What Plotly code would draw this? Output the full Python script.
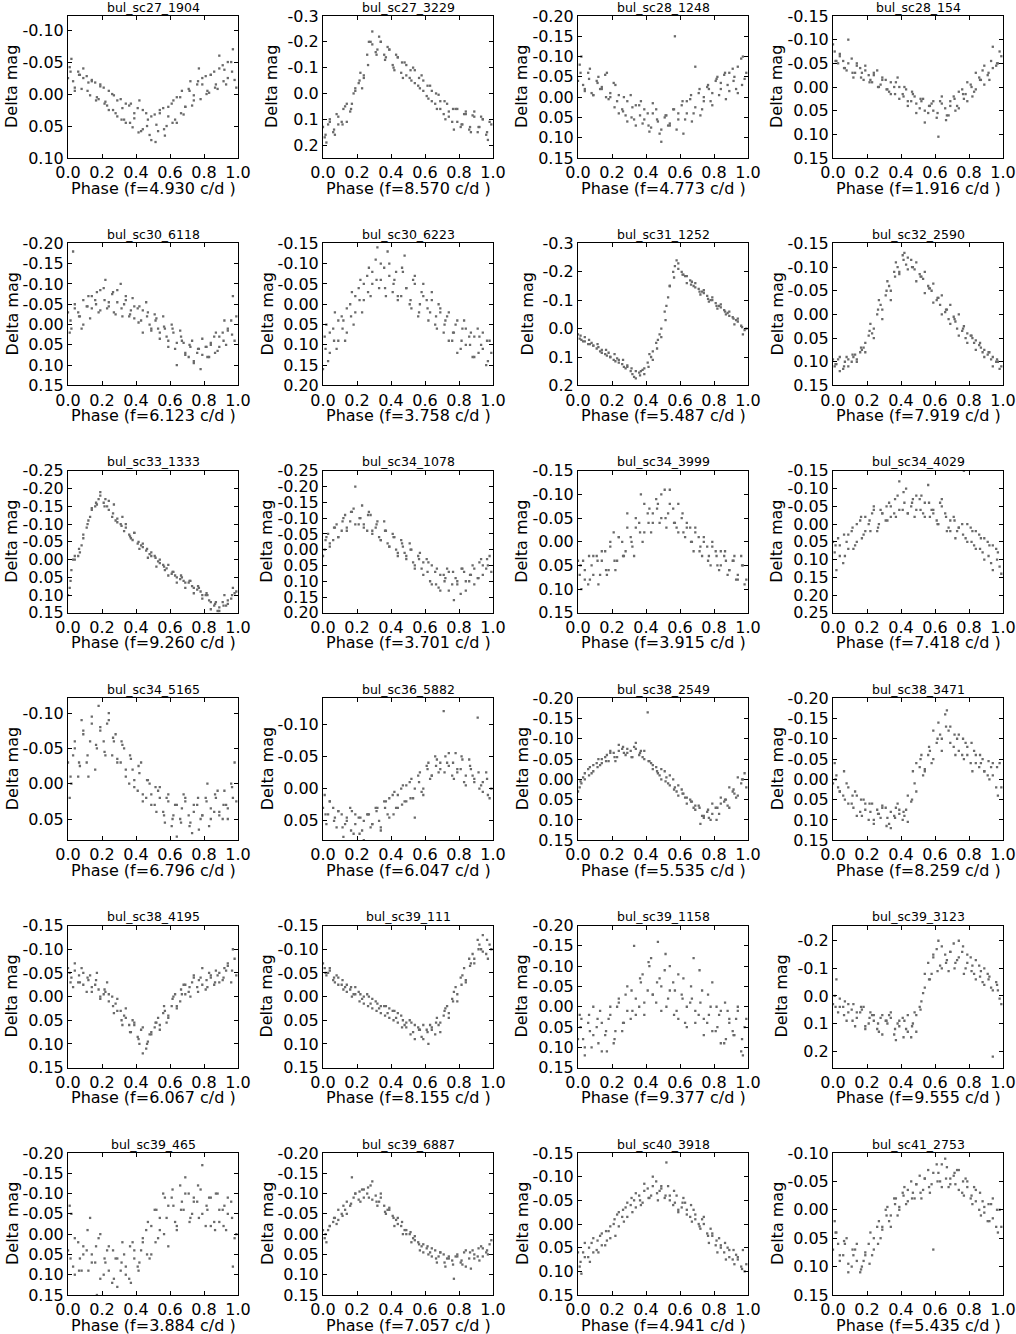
import plotly.graph_objects as go

# phase sampling shared by all panels (three interleaved sets of observations)
PHASE_A = [0.01, 0.03, 0.06, 0.08, 0.11, 0.13, 0.16, 0.18, 0.21, 0.23, 0.26, 0.28, 0.31, 0.33,
           0.36, 0.38, 0.41, 0.43, 0.46, 0.48, 0.51, 0.53, 0.56, 0.58, 0.61, 0.63, 0.66, 0.68,
           0.71, 0.73, 0.76, 0.78, 0.81, 0.83, 0.86, 0.88, 0.91, 0.93, 0.96, 0.98]
PHASE_B = [0.00, 0.02, 0.04, 0.07, 0.09, 0.12, 0.14, 0.17, 0.19, 0.22, 0.24, 0.27, 0.29, 0.32,
           0.34, 0.37, 0.39, 0.42, 0.44, 0.47, 0.49, 0.52, 0.54, 0.57, 0.59, 0.62, 0.64, 0.67,
           0.69, 0.72, 0.74, 0.77, 0.79, 0.82, 0.84, 0.87, 0.89, 0.92, 0.94, 0.97]
PHASE_C = [0.015, 0.04, 0.065, 0.09, 0.115, 0.14, 0.165, 0.19, 0.215, 0.24, 0.265, 0.29, 0.315,
           0.34, 0.365, 0.39, 0.415, 0.44, 0.465, 0.49, 0.515, 0.54, 0.565, 0.59, 0.615, 0.64,
           0.665, 0.69, 0.715, 0.74, 0.765, 0.79, 0.815, 0.84, 0.865, 0.89, 0.915, 0.94, 0.965, 0.99]

# delta mag in millimag
sc27_1904_a = [-42, -20, -35, -8, -28, 2, -18, 8, -10, 18, 0, 30, 8, 40, 18, 52, 22, 58, 30, 64,
               32, 58, 22, 50, 15, 40, 5, 32, -8, 18, -15, 8, -28, -2, -35, -8, -45, -15, -50, -22]
sc27_1904_b = [-25, -55, -5, -30, -40, -18, -22, 5, -12, 12, 25, 2, 35, 22, 45, 15, 38, 10, 55, 40,
               72, 48, 25, 65, 35, 10, 45, -5, 20, -20, 2, -40, -15, -5, -30, -15, -60, -38, -25, -70]
sc27_1904_c = [-35, -10, -30, -25, -5, -20, 10, -15, 15, -5, 25, 10, 40, 15, 45, 30, 60, 25, 50, 35,
               75, 30, 55, 20, 45, 5, 30, 20, -5, 10, -20, -25, 0, -30, -10, -40, -20, -50, -35, -10]
sc27_3229_a = [170, 120, 150, 80, 110, 50, 70, 0, -40, -20, -150, -200, -160, -220, -150, -180, -110,
               -150, -80, -120, -60, -100, -30, -70, 10, -30, 40, 5, 80, 40, 110, 60, 130, 80, 140,
               85, 150, 90, 160, 110]
sc27_3229_b = [130, 190, 100, 160, 120, 60, 110, 40, -20, -80, -70, -200, -240, -170, -200, -140,
               -170, -90, -140, -60, -110, -50, -90, -20, -50, 20, -10, 60, 30, 100, 70, 140, 60,
               120, 80, 150, 70, 130, 100, 180]
sc27_3229_c = [160, 110, 140, 90, 120, 40, 60, -10, -50, -60, -110, -190, -150, -200, -130, -170,
               -100, -140, -120, -70, -90, -40, -60, -10, -30, 30, 0, 60, 30, 90, 60, 110, 120, 70,
               130, 90, 130, 100, 150, 120]
sc28_1248_a = [-80, -30, -60, -10, -40, -20, -55, 5, -35, 10, 30, 45, -5, 55, 20, 65, 40, 75, 30, 90,
               50, 70, 30, 80, 20, 55, 5, 40, -10, 30, -25, 10, -40, -5, -55, -30, -70, -20, -95, -45]
sc28_1248_b = [-40, -100, -15, -70, -5, -50, -20, -60, 0, -30, 40, 0, 60, 25, 70, 10, 55, 85, 15, 60,
               110, 45, 70, -150, 40, 90, 10, 60, -75, 45, 0, -20, 20, -50, -35, 5, -60, -50, -10, -100]
sc28_1248_c = [-60, -20, -45, -5, -35, -25, 0, -10, 25, -5, 35, 10, 50, 20, 45, 30, 70, 40, 55, 80,
               45, 65, 30, 55, 10, 40, -5, 25, -20, 10, -30, -10, -45, -20, -60, -15, -40, -75, -30, -60]
sc28_154_a = [-75, -50, -55, -35, -60, -30, -40, -15, -25, -10, -35, -5, -15, 10, 0, -20, 15, 5, 30,
              20, 45, 25, 55, 35, 65, 30, 45, 60, 20, 40, 5, 15, -5, 10, -20, -35, -25, -55, -45, -75]
sc28_154_b = [-90, -55, -70, -40, -100, -20, -50, -30, -45, -15, -25, 0, -20, 5, 15, -10, 25, 0, 40,
              15, 55, 30, 75, 40, 50, 105, 20, 60, 30, 50, 10, 25, -10, 20, -30, -15, -45, -15, -85, -50]
sc28_154_c = [-55, -65, -40, -50, -30, -45, -20, -35, -10, -30, 0, -15, 5, -10, 15, 0, 20, 30, 10, 35,
              25, 50, 40, 30, 55, 35, 70, 40, 25, 45, 15, 30, 0, 5, -15, -5, -30, -40, -50, -65]
sc30_6118_a = [20, -180, -30, 10, -45, -15, -60, -30, -90, -40, -75, -25, -100, -50, -20, -65, -40,
               -10, -55, 0, -25, 10, -20, 30, 0, 60, 15, 45, 80, 40, 70, 110, 55, 80, 30, 65, 20, 50,
               -10, 40]
sc30_6118_b = [-30, 10, -50, -20, 0, -70, -40, -80, -35, -110, -55, -30, -85, -20, -60, -35, -15, -45,
               20, -30, 10, -15, 35, 10, 55, 20, 100, 40, 75, 55, 95, 60, 35, 80, 50, 20, 55, -10, 15,
               -70]
sc30_6118_c = [-10, -40, -20, -60, -45, -70, -50, -85, -60, -45, -80, -55, -40, -70, -25, -45, -5,
               -35, -20, 15, -10, 20, 5, 40, 10, 45, 30, 70, 50, 90, 60, 75, 55, 45, 70, 30, 40, 10,
               25, -20]
sc30_6223_a = [80, 140, 60, 110, 30, 90, 0, 50, -40, 20, -70, -20, -110, -40, -90, -130, -30, -80,
               -20, -120, 0, -60, 30, -30, -10, 20, 50, 0, 70, 30, 90, 50, 110, 40, 80, 130, 60, 100,
               150, 90]
sc30_6223_b = [160, 50, 120, 20, 90, 40, 70, -30, 20, -60, -10, -90, -50, -140, -60, -20, -100, -60,
               -10, -80, -40, 10, -70, 0, -50, 40, -10, 60, 20, 40, 90, 70, 120, 60, 100, 70, 130, 80,
               110, 140]
sc30_6223_c = [110, 70, 90, 40, 60, 10, 30, -20, -10, -50, -30, -80, -60, -100, -40, -70, -50, -20,
               -90, -40, -10, -50, 20, -20, 10, -30, 30, 10, 50, 20, 70, 40, 90, 60, 100, 80, 120, 70,
               90, 120]
sc31_1252_a = [35, 45, 55, 50, 70, 80, 90, 85, 110, 105, 125, 140, 150, 170, 155, 145, 120, 100, 50,
               20, -60, -110, -200, -240, -200, -185, -170, -150, -140, -130, -115, -100, -90, -80,
               -65, -55, -40, -30, -10, 5]
sc31_1252_b = [20, 40, 30, 55, 60, 65, 85, 95, 100, 115, 120, 135, 130, 160, 175, 150, 140, 90, 80,
               40, 0, -80, -150, -220, -210, -190, -160, -165, -145, -120, -125, -95, -100, -70, -75,
               -50, -45, -15, -25, 20]
sc31_1252_c = [25, 45, 40, 60, 55, 75, 75, 100, 90, 110, 110, 135, 140, 150, 165, 160, 135, 110, 70,
               30, -30, -150, -180, -230, -190, -185, -155, -160, -130, -135, -105, -110, -80, -85,
               -60, -60, -35, -35, -5, 0]
sc32_2590_a = [110, 95, 115, 90, 100, 85, 80, 70, 45, 40, 0, -20, -40, -60, -90, -100, -125, -105,
               -115, -95, -85, -75, -60, -50, -30, -20, -5, 10, 5, 30, 35, 50, 45, 60, 65, 80, 85, 95,
               100, 115]
sc32_2590_b = [95, 105, 120, 100, 110, 90, 95, 75, 60, 20, 30, -30, -10, -70, -50, -110, -85, -130,
               -95, -100, -70, -80, -45, -55, -25, -35, 0, -10, 20, 15, 45, 25, 60, 50, 75, 70, 90, 80,
               110, 100]
sc32_2590_c = [105, 90, 110, 95, 85, 100, 70, 80, 35, 50, -10, 10, -50, -30, -80, -90, -115, -120,
               -100, -110, -80, -90, -55, -65, -35, -40, -10, -20, 10, 0, 30, 40, 45, 55, 60, 75, 80,
               90, 95, 110]
sc33_1333_a = [80, 0, -10, -40, -90, -120, -150, -170, -160, -150, -120, -110, -100, -80, -70, -55,
               -45, -40, -25, -15, -10, 5, 15, 25, 40, 45, 55, 60, 65, 75, 85, 90, 100, 115, 130, 145,
               120, 130, 110, 95]
sc33_1333_b = [100, 30, 0, -20, -60, -110, -145, -155, -190, -170, -140, -155, -105, -120, -90, -60,
               -75, -30, -45, -5, -20, 20, 0, 30, 45, 35, 65, 50, 80, 60, 95, 80, 110, 100, 140, 120,
               145, 100, 125, 80]
sc33_1333_c = [60, -10, -30, -70, -100, -140, -160, -180, -150, -165, -130, -115, -95, -100, -65, -75,
               -50, -35, -30, -10, -5, 10, 20, 15, 35, 50, 45, 65, 60, 80, 75, 100, 95, 120, 125, 135,
               130, 115, 100, 90]
sc34_1078_a = [0, -50, -30, -80, -60, -110, -90, -130, -80, -140, -60, -110, -70, -40, -90, -20, -50,
               0, -30, 10, -20, 40, 20, 60, 30, 100, 70, 120, 80, 60, 110, 90, 140, 70, 100, 50, 90,
               30, 60, 20]
sc34_1078_b = [20, -40, -20, -70, -40, -100, -70, -120, -200, -100, -80, -120, -50, -90, -30, -60,
               -10, -40, 20, -10, 30, 0, 50, 10, 80, 40, 110, 60, 130, 90, 70, 160, 100, 60, 130, 80,
               110, 40, 80, 50]
sc34_1078_c = [-30, -10, -70, -40, -90, -60, -120, -80, -100, -70, -110, -60, -80, -30, -60, -10, -40,
               10, -20, 20, 0, 60, 30, 40, 70, 50, 110, 80, 100, 130, 70, 110, 60, 100, 80, 60, 90,
               50, 30, 70]
sc34_3999_a = [70, 40, 90, 50, 30, 70, 20, 60, -20, 40, 0, 20, -10, 30, -40, 0, -60, -20, -90, -40,
               -110, -60, -70, -30, -50, -10, -30, 20, -10, 30, 10, 50, 20, 60, 30, 70, 40, 80, 30, 90]
sc34_3999_b = [40, 100, 60, 80, 30, 90, 40, 70, 10, 60, -10, 30, -60, 10, -30, -100, -20, -70, -40,
               -80, -50, -30, -110, -40, -80, -20, -40, 0, -30, 10, -10, 30, 0, 50, 20, 40, 60, 30, 80,
               50]
sc34_3999_c = [50, 80, 30, 70, 40, 20, 60, 0, 40, -10, 30, -30, 0, -50, -20, -80, -40, -60, -70, -100,
               -50, -80, -40, -20, -60, -30, 0, -20, 20, 0, 40, 10, 30, 50, 20, 60, 40, 70, 50, 80]
sc34_4029_a = [80, 40, 110, 50, 20, 60, -10, 30, 0, -30, 20, -40, -10, -60, -30, -80, -40, -100, -50,
               -20, -70, -30, -110, -40, -10, -60, -30, 10, -20, 20, 0, 40, 10, 60, 30, 80, 50, 110, 70,
               120]
sc34_4029_b = [50, 130, 60, 90, 30, 70, 0, 40, -20, 20, -50, 0, -30, -10, -50, -20, -120, -60, -30,
               -70, -40, -80, -60, -20, -40, 0, -70, 20, -10, 40, 10, -150, 50, 20, 70, 40, 100, 60,
               130, 80]
sc34_4029_c = [60, 90, 30, 70, 10, 50, -20, 20, -10, -40, 10, -30, -50, -20, -70, -40, -90, -30, -60,
               -80, -40, -20, -60, -30, 0, -50, -20, 20, -10, 10, 30, 0, 50, 20, 70, 40, 90, 60, 100,
               140]
sc34_5165_a = [20, -40, -10, -90, -30, -60, -20, -110, -60, -85, -40, -70, -30, -50, 0, -20, 10, -30,
               20, 0, 30, 10, 40, 20, 60, 30, 50, 15, 45, 70, 30, 50, 20, 60, 40, 10, 50, 30, 0, -30]
sc34_5165_b = [-30, 0, -60, -25, -75, -10, -95, -50, -80, -40, -100, -60, -30, -55, -10, -35, 5, -15,
               25, -5, 15, 40, 5, 55, 25, 45, 75, 35, 20, 55, 30, 65, 45, 0, 35, 20, 45, 10, 35, 20]
sc34_5165_c = [-10, -50, -30, -70, -40, -85, -55, -75, -45, -90, -65, -35, -60, -20, -40, -5, -25, 15,
               -5, 30, 5, 20, 45, 15, 50, 30, 55, 25, 60, 40, 20, 45, 25, 50, 15, 40, 30, 50, 5, 25]
sc36_5882_a = [10, 40, 30, 60, 40, 55, 30, 70, 45, 65, 40, 60, 30, 50, 20, 40, 10, 30, 0, 20, -10,
               15, -20, 5, -35, -15, -50, -25, -120, -40, -20, -55, -30, -10, -45, -20, -110, -5, -25,
               15]
sc36_5882_b = [30, 55, 20, 45, 35, 75, 50, 35, 55, 45, 80, 40, 55, 30, 65, 20, 45, 5, 30, -5, 20, -15,
               45, -25, 0, -40, -20, -45, -30, -50, -35, -15, -25, -45, -5, -30, -15, 0, -10, 10]
sc36_5882_c = [40, 20, 50, 35, 60, 45, 65, 40, 70, 50, 40, 55, 35, 60, 30, 15, 40, 10, 25, -5, 15, 0,
               -10, 10, -30, -20, -35, -40, -25, -55, -40, -30, -50, -20, -35, -10, -25, 5, -15, 0]
sc38_2549_a = [20, -5, -25, -15, -40, -35, -55, -45, -65, -55, -75, -60, -70, -80, -60, -55, -165,
               -40, -30, -10, -20, 10, 0, 30, 25, 45, 50, 70, 65, 90, 80, 100, 70, 85, 55, 65, 30, 45,
               10, -15]
sc38_2549_b = [30, 10, 0, -30, -20, -50, -40, -60, -70, -45, -85, -65, -75, -55, -90, -70, -50, -45,
               -25, -15, 0, -5, 15, 20, 40, 35, 60, 55, 75, 110, 90, 95, 60, 70, 45, 50, 20, 35, -5, 0]
sc38_2549_c = [5, -15, -10, -35, -30, -50, -45, -65, -55, -70, -80, -65, -55, -75, -65, -70, -45, -35,
               -20, -25, 5, -10, 25, 15, 35, 45, 55, 65, 70, 95, 75, 85, 100, 60, 50, 70, 25, 40, 0, 20]
sc38_3471_a = [-40, 20, 40, 10, 60, 30, 80, 50, 100, 60, 75, 95, 70, 110, 90, 60, 100, 75, 55, 10,
               -30, -10, -60, -40, -90, -110, -160, -120, -80, -100, -60, -90, -40, -70, -30, -50, -10,
               -30, 20, -40]
sc38_3471_b = [10, -10, 30, 50, 20, 70, 40, 90, 60, 80, 110, 85, 65, 95, 120, 70, 85, 90, 40, -20,
               -40, -60, -25, -70, -120, -140, -100, -170, -130, -60, -110, -50, -80, -20, -60, -40,
               -20, 0, -40, 40]
sc38_3471_c = [0, 30, -20, 60, 40, 90, 50, 75, 60, 100, 85, 70, 115, 80, 95, 75, 80, 105, 50, 30, -50,
               -20, -80, -50, -100, -70, -130, -90, -110, -70, -100, -60, -90, -40, -60, -20, -45, -10,
               -30, 20]
sc38_4195_a = [-50, -20, -30, -60, -10, -45, -25, -15, -5, -30, 0, 15, 30, 40, 60, 50, 85, 70, 110,
               80, 65, 45, 35, 55, 20, -5, 10, -25, -10, -30, -20, -40, -15, -50, -25, -45, -35, -55,
               -30, -80]
sc38_4195_b = [-60, -40, -70, -30, -50, -35, -10, -50, 0, -10, 10, 35, 30, 60, 45, 75, 60, 100, 120,
               95, 80, 55, 70, 30, 45, 0, 20, -5, -25, 0, -45, -35, -60, -20, -40, -55, -30, -60, -70,
               -100]
sc38_4195_c = [-30, -55, -45, -25, -40, -20, -35, 5, -15, -5, 20, 5, 50, 25, 75, 55, 90, 65, 100, 75,
               55, 60, 20, 40, 5, 25, -15, -5, -20, -40, -10, -25, -35, -45, -30, -50, -40, -65, -55,
               -45]
sc39_111_a = [-60, -50, -35, -45, -25, -20, -15, -5, -10, 5, -5, 15, 10, 25, 20, 35, 30, 45, 40, 60,
              50, 75, 65, 85, 70, 60, 80, 60, 40, 20, 5, -20, -40, -60, -80, -90, -120, -100, -90, -110]
sc39_111_b = [-70, -45, -60, -30, -40, -15, -25, 0, -20, -5, 15, 0, 25, 15, 35, 20, 45, 30, 55, 50,
              65, 55, 90, 70, 60, 100, 70, 45, 55, 25, 35, -10, 10, -45, -30, -70, -80, -110, -130, -80]
sc39_111_c = [-50, -55, -40, -25, -35, -10, -20, -5, 10, 0, 20, 5, 30, 20, 40, 25, 50, 35, 65, 55, 80,
              60, 70, 90, 75, 65, 55, 75, 30, 45, 10, -5, -25, -35, -65, -70, -100, -95, -120, -100]
sc39_1158_a = [20, 80, 40, 100, 50, 10, 70, 30, 90, 0, 60, -30, 30, -150, 0, -80, -40, -120, -10, -70,
               -90, -20, -60, 10, -30, 40, -10, -120, 20, -40, 40, 0, 60, 20, 90, 10, 60, 30, 110, 50]
sc39_1158_b = [80, 30, 120, 60, 0, 90, 40, 110, 20, 60, -10, 40, -50, 10, -20, -60, 20, -100, -30,
               -160, -50, 0, -100, -40, 30, -70, 0, -20, 40, -10, 70, 20, -60, 50, 10, 80, 30, 70, 0,
               120]
sc39_1158_c = [50, 100, 20, 70, 30, 110, 60, 0, 80, -20, 40, 10, -40, 20, -70, -10, -110, -30, -60,
               10, -130, -40, 20, -80, -20, 50, -50, 10, -90, 30, -30, 60, 0, 90, -10, 40, 70, 10, 80,
               30]
sc39_3123_a = [0, 60, 40, 90, 50, 110, 60, 40, 100, 70, 120, 80, 90, 70, 140, 100, 80, 120, 150, 60,
               40, -10, -120, -80, -170, -110, -150, -90, -190, -130, -160, -100, -140, -80, -110, -50,
               -80, -30, -50, 10]
sc39_3123_b = [30, -60, 40, 20, 60, 30, 80, 50, 110, 60, 90, 130, 70, 100, 80, 160, 110, 90, 130, 100,
               70, 20, -80, -60, -140, -200, -100, -130, -160, -120, -200, -80, -150, -110, -60, -90,
               -40, -70, 220, -20]
sc39_3123_c = [40, 10, 70, 30, 90, 60, 40, 120, 80, 70, 100, 140, 90, 60, 120, 90, 150, 70, 110, 130,
               50, -30, -60, -150, -90, -180, -120, -160, -100, -140, -180, -120, -90, -130, -70, -100,
               -60, -20, -40, 30]
sc39_465_a = [-70, 80, 20, 90, 40, -40, 70, 10, 100, 40, 120, 60, 90, 50, 110, 20, 80, 40, -10, 60,
              -60, 10, -100, -40, -90, -30, -120, -60, -100, -50, -80, -110, -20, -90, -30, -100, -60,
              -10, -80, 10]
sc39_465_b = [40, -50, 100, 60, 30, 90, 50, 150, 0, 70, 30, 110, 60, 20, 80, 120, 40, 70, 20, -30, 50,
              -60, -10, -90, 30, -70, -10, -80, -140, -40, -90, -40, -170, -60, -20, -100, -30, -70,
              -50, 80]
sc39_465_c = [60, 10, 90, 50, -10, 70, 30, 110, 60, 90, 40, 130, 70, 100, 30, 60, 90, 10, 50, -20, 20,
              -40, 0, -70, -110, -20, -60, -100, -30, -80, -120, -50, -70, -90, -10, -60, -20, -90,
              -40, 0]
sc39_6887_a = [10, -10, -30, -25, -50, -60, -70, -90, -85, -110, -100, -120, -95, -80, -70, -60, -45,
               -35, -20, -10, 0, 10, 20, 30, 35, 45, 40, 55, 50, 60, 65, 55, 70, 45, 60, 40, 55, 30,
               45, 25]
sc39_6887_b = [-10, 20, -20, -40, -35, -70, -50, -140, -100, -80, -110, -90, -130, -70, -90, -50, -60,
               -20, -40, 0, -10, 20, 5, 40, 25, 50, 35, 70, 45, 80, 60, 110, 55, 75, 40, 85, 50, 65,
               35, 50]
sc39_6887_c = [0, -20, -40, -60, -45, -80, -75, -100, -105, -90, -115, -85, -80, -100, -55, -65, -40,
               -25, -30, 0, -5, 15, 25, 45, 30, 55, 60, 45, 70, 55, 75, 50, 65, 80, 45, 60, 35, 55,
               40, 15]
sc40_3918_a = [90, 60, 70, 40, 55, 25, 45, 15, 0, -20, -15, -35, -40, -50, -60, -45, -75, -60, -90,
               -70, -55, -80, -40, -60, -35, -45, -15, -30, 0, -10, 20, 10, 45, 30, 60, 50, 75, 65,
               90, 100]
sc40_3918_b = [60, 105, 40, 80, 30, 60, 20, 35, 5, 25, -25, -5, -45, -25, -65, -40, -85, -55, -100,
               -50, -80, -130, -60, -45, -25, -55, -30, -5, -20, 10, 0, 40, 25, 60, 45, 75, 55, 85, 70,
               55]
sc40_3918_c = [80, 70, 50, 60, 35, 45, 15, 30, -10, 5, -30, -15, -55, -35, -50, -70, -55, -80, -65,
               -75, -60, -50, -70, -30, -45, -20, -40, -10, 5, -15, 25, 20, 35, 50, 40, 70, 55, 75,
               95, 85]
sc41_2753_a = [20, 60, 80, 50, 100, 70, 110, 90, 60, 80, 30, 50, 0, 20, -20, 10, -30, -10, -50, -20,
               -60, -35, -70, -45, -80, -50, -90, -40, -60, -70, -30, -55, -20, -40, 0, -15, 20, -10,
               30, 0]
sc41_2753_b = [70, 40, 90, 60, 110, 80, 60, 100, 80, 40, 70, 20, 30, -5, 10, -20, 0, -40, -15, -30,
               -45, -20, -55, -30, 70, -65, -40, -75, -55, -45, -70, -25, -50, -10, -35, 10, -5, 20,
               -20, 40]
sc41_2753_c = [40, 80, 55, 95, 70, 90, 105, 75, 95, 50, 60, 35, 10, 30, -10, -5, -25, -35, -20, -45,
               -30, -55, -40, -65, -50, -80, -55, -45, -65, -35, -50, -40, -25, -15, -30, 5, -10, 15,
               0, 30]

STARS = ["bul_sc27_1904", "bul_sc27_3229", "bul_sc28_1248", "bul_sc28_154",
         "bul_sc30_6118", "bul_sc30_6223", "bul_sc31_1252", "bul_sc32_2590",
         "bul_sc33_1333", "bul_sc34_1078", "bul_sc34_3999", "bul_sc34_4029",
         "bul_sc34_5165", "bul_sc36_5882", "bul_sc38_2549", "bul_sc38_3471",
         "bul_sc38_4195", "bul_sc39_111", "bul_sc39_1158", "bul_sc39_3123",
         "bul_sc39_465", "bul_sc39_6887", "bul_sc40_3918", "bul_sc41_2753"]
FREQS = ["4.930", "8.570", "4.773", "1.916", "6.123", "3.758", "5.487", "7.919",
         "9.260", "3.701", "3.915", "7.418", "6.796", "6.047", "5.535", "8.259",
         "6.067", "8.155", "9.377", "9.555", "3.884", "7.057", "4.941", "5.435"]
MAGS = [(sc27_1904_a, sc27_1904_b, sc27_1904_c), (sc27_3229_a, sc27_3229_b, sc27_3229_c),
        (sc28_1248_a, sc28_1248_b, sc28_1248_c), (sc28_154_a, sc28_154_b, sc28_154_c),
        (sc30_6118_a, sc30_6118_b, sc30_6118_c), (sc30_6223_a, sc30_6223_b, sc30_6223_c),
        (sc31_1252_a, sc31_1252_b, sc31_1252_c), (sc32_2590_a, sc32_2590_b, sc32_2590_c),
        (sc33_1333_a, sc33_1333_b, sc33_1333_c), (sc34_1078_a, sc34_1078_b, sc34_1078_c),
        (sc34_3999_a, sc34_3999_b, sc34_3999_c), (sc34_4029_a, sc34_4029_b, sc34_4029_c),
        (sc34_5165_a, sc34_5165_b, sc34_5165_c), (sc36_5882_a, sc36_5882_b, sc36_5882_c),
        (sc38_2549_a, sc38_2549_b, sc38_2549_c), (sc38_3471_a, sc38_3471_b, sc38_3471_c),
        (sc38_4195_a, sc38_4195_b, sc38_4195_c), (sc39_111_a, sc39_111_b, sc39_111_c),
        (sc39_1158_a, sc39_1158_b, sc39_1158_c), (sc39_3123_a, sc39_3123_b, sc39_3123_c),
        (sc39_465_a, sc39_465_b, sc39_465_c), (sc39_6887_a, sc39_6887_b, sc39_6887_c),
        (sc40_3918_a, sc40_3918_b, sc40_3918_c), (sc41_2753_a, sc41_2753_b, sc41_2753_c)]

# y limits (bottom, top) -- axis is inverted, brighter is up
Y_BOTTOM = [0.10, 0.25, 0.15, 0.15, 0.15, 0.20, 0.20, 0.15, 0.15, 0.20, 0.15, 0.25,
            0.08, 0.08, 0.15, 0.15, 0.15, 0.15, 0.15, 0.26, 0.15, 0.15, 0.15, 0.15]
Y_TOP = [-0.122, -0.30, -0.20, -0.15, -0.20, -0.15, -0.30, -0.15, -0.25, -0.25, -0.15, -0.15,
         -0.121, -0.14, -0.20, -0.20, -0.15, -0.15, -0.20, -0.255, -0.20, -0.20, -0.15, -0.10]

TICKS_10_10 = ["-0.10", "-0.05", "0.00", "0.05", "0.10"]
TICKS_3_2 = ["-0.3", "-0.2", "-0.1", "0.0", "0.1", "0.2"]
TICKS_2_2 = ["-0.2", "-0.1", "0.0", "0.1", "0.2"]
TICKS_20_15 = ["-0.20", "-0.15", "-0.10", "-0.05", "0.00", "0.05", "0.10", "0.15"]
TICKS_15_15 = ["-0.15", "-0.10", "-0.05", "0.00", "0.05", "0.10", "0.15"]
TICKS_15_20 = ["-0.15", "-0.10", "-0.05", "0.00", "0.05", "0.10", "0.15", "0.20"]
TICKS_25_15 = ["-0.25", "-0.20", "-0.15", "-0.10", "-0.05", "0.00", "0.05", "0.10", "0.15"]
TICKS_25_20 = ["-0.25", "-0.20", "-0.15", "-0.10", "-0.05", "0.00", "0.05", "0.10", "0.15", "0.20"]
TICKS_15_25 = ["-0.15", "-0.10", "-0.05", "0.00", "0.05", "0.10", "0.15", "0.20", "0.25"]
TICKS_10_05 = ["-0.10", "-0.05", "0.00", "0.05"]
TICKS_10_15 = ["-0.10", "-0.05", "0.00", "0.05", "0.10", "0.15"]
Y_TICKS = [TICKS_10_10, TICKS_3_2, TICKS_20_15, TICKS_15_15,
           TICKS_20_15, TICKS_15_20, TICKS_3_2, TICKS_15_15,
           TICKS_25_15, TICKS_25_20, TICKS_15_15, TICKS_15_25,
           TICKS_10_05, TICKS_10_05, TICKS_20_15, TICKS_20_15,
           TICKS_15_15, TICKS_15_15, TICKS_20_15, TICKS_2_2,
           TICKS_20_15, TICKS_20_15, TICKS_15_15, TICKS_10_15]
X_TICKS = ["0.0", "0.2", "0.4", "0.6", "0.8", "1.0"]

W, H = 1016, 1334
FONT = "DejaVu Sans"

fig = go.Figure()
annotations = []
for i, star in enumerate(STARS):
    row, col = divmod(i, 4)
    left = 68 + 255 * col
    right = left + 170
    top = 16 + 227.4 * row
    bottom = top + 142
    n = "" if i == 0 else str(i + 1)
    mag_a, mag_b, mag_c = MAGS[i]
    assert len(mag_a) == len(mag_b) == len(mag_c) == 40, star

    fig.add_trace(go.Scatter(
        x=PHASE_A + PHASE_B + PHASE_C,
        y=[m / 1000 for m in mag_a + mag_b + mag_c],
        mode="markers",
        marker=dict(symbol="square", size=2.3, color="#6a6a6a", line=dict(width=0)),
        xaxis="x" + n, yaxis="y" + n, showlegend=False, hoverinfo="skip",
    ))

    axis_common = dict(
        ticks="inside", ticklen=4, tickwidth=1, tickcolor="black",
        showline=True, linecolor="black", linewidth=1, mirror="ticks",
        showgrid=False, zeroline=False, automargin=False,
        tickfont=dict(family=FONT, size=16, color="black"),
    )
    fig.update_layout({
        "xaxis" + n: dict(
            domain=[left / W, right / W], anchor="y" + n, range=[0, 1],
            tickvals=[float(t) for t in X_TICKS], ticktext=X_TICKS, **axis_common),
        "yaxis" + n: dict(
            domain=[1 - bottom / H, 1 - top / H], anchor="x" + n,
            range=[Y_BOTTOM[i], Y_TOP[i]],
            tickvals=[float(t) for t in Y_TICKS[i]], ticktext=Y_TICKS[i], **axis_common),
    })

    cx = (left + right) / 2 / W
    label_off = 56 if len(Y_TICKS[i][0]) == 5 else 51
    annotations += [
        dict(text=star, x=cx, y=1 - (top - 9) / H, xref="paper", yref="paper",
             showarrow=False, xanchor="center", yanchor="middle",
             font=dict(family=FONT, size=12.5, color="black")),
        dict(text="Phase (f=%s c/d )" % FREQS[i], x=cx, y=1 - (bottom + 30) / H,
             xref="paper", yref="paper", showarrow=False, xanchor="center", yanchor="middle",
             font=dict(family=FONT, size=16, color="black")),
        dict(text="Delta mag", x=(left - label_off) / W, y=1 - (top + bottom) / 2 / H,
             xref="paper", yref="paper", showarrow=False, textangle=-90,
             xanchor="center", yanchor="middle",
             font=dict(family=FONT, size=16, color="black")),
    ]

fig.update_layout(
    width=W, height=H,
    margin=dict(l=0, r=0, t=0, b=0, autoexpand=False),
    paper_bgcolor="white", plot_bgcolor="white",
    annotations=annotations,
    showlegend=False,
)

# drop the browser's default body margin so the figure fills the window exactly
fig.write_html("out.html", config={"displayModeBar": False},
               post_script="document.body.style.margin = '0';")
